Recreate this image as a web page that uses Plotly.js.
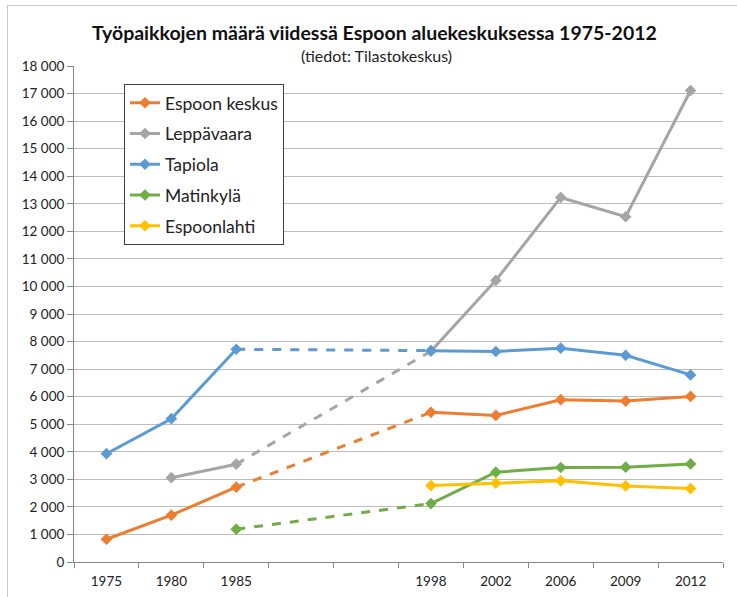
<!DOCTYPE html>
<html>
<head>
<meta charset="utf-8">
<script src="https://cdn.plot.ly/plotly-3.0.1.min.js"></script>
<style>
  html, body { margin: 0; padding: 0; background: #fff; }
  #wrap { position: relative; width: 737px; height: 597px; }
  #chart { width: 737px; height: 597px; }
  #frame { position: absolute; left: 7px; top: 5px; width: 740px; height: 600px;
           border-left: 1px solid #c8c8c8; border-top: 1px solid #c8c8c8;
           pointer-events: none; box-sizing: border-box; }
</style>
</head>
<body>
<div id="wrap"><div id="chart"></div><div id="frame"></div></div>
<script>
// Category order of the x axis (two empty slots between 1985 and 1998)
const categoryOrder = ['1975','1980','1985','gap1','gap2','1998','2002','2006','2009','2012'];
const years = ['1975','1980','1985','1998','2002','2006','2009','2012'];

// Series values (number of jobs); null = no data
const espoonKeskus = [825, 1700, 2715, 5430, 5320, 5890, 5840, 6010];
const leppavaara   = [null, 3060, 3550, 7650, 10220, 13230, 12530, 17110];
const tapiola      = [3930, 5200, 7720, 7670, 7640, 7760, 7500, 6790];
const matinkyla    = [null, null, 1190, 2120, 3260, 3430, 3440, 3560];
const espoonlahti  = [null, null, null, 2775, 2860, 2945, 2760, 2665];

const seriesNames  = ['Espoon keskus', 'Leppävaara', 'Tapiola', 'Matinkylä', 'Espoonlahti'];
const seriesValues = [espoonKeskus, leppavaara, tapiola, matinkyla, espoonlahti];
const seriesColors = ['#ED7D31', '#A5A5A5', '#5B9BD5', '#70AD47', '#FFC000'];

const gapStart = '1985', gapEnd = '1998';

const traces = [];
seriesNames.forEach((name, i) => {
  const vals = seriesValues[i];
  const lookup = {};
  years.forEach((y, k) => { lookup[y] = vals[k]; });
  const color = seriesColors[i];
  // dashed connection across the gap
  const a = lookup[gapStart], b = lookup[gapEnd];
  if (a != null && b != null) {
    traces.push({
      x: [gapStart, gapEnd], y: [a, b], type: 'scatter', mode: 'lines',
      line: { color: color, width: 3, dash: 'dash' },
      showlegend: false, legendgroup: name, hoverinfo: 'skip'
    });
  }
  // solid segments with markers
  traces.push({
    x: categoryOrder,
    y: categoryOrder.map(c => (c in lookup ? lookup[c] : null)),
    type: 'scatter', mode: 'lines+markers', name: name,
    connectgaps: false, legendgroup: name,
    line: { color: color, width: 3 },
    marker: { symbol: 'diamond', size: 9, color: color }
  });
});

// order: dashed lines first, then solid series in order
traces.sort((p, q) => (p.mode === 'lines' ? 0 : 1) - (q.mode === 'lines' ? 0 : 1));

const font = "Lato, 'Liberation Sans', sans-serif";

const layout = {
  width: 737, height: 597,
  margin: { l: 74, r: 14, t: 66, b: 35 },
  paper_bgcolor: '#fff', plot_bgcolor: '#fff',
  separators: ', ',
  font: { family: font, size: 13, color: '#222' },
  title: {
    text: '<b>Työpaikkojen määrä viidessä Espoon aluekeskuksessa 1975-2012</b>',
    font: { family: font, size: 19.5, color: '#111' },
    x: 0.508, xref: 'container', xanchor: 'center',
    y: 0.945, yref: 'container', yanchor: 'middle'
  },
  annotations: [{
    text: '(tiedot: Tilastokeskus)', xref: 'paper', yref: 'paper',
    x: 0.466, y: 1.022, xanchor: 'center', yanchor: 'middle', showarrow: false,
    font: { family: font, size: 16, color: '#222' }
  }],
  xaxis: {
    type: 'category', categoryorder: 'array', categoryarray: categoryOrder,
    range: [-0.5, categoryOrder.length - 0.5],
    tickmode: 'array', tickvals: categoryOrder,
    ticktext: categoryOrder.map(c => (c.startsWith('gap') ? '' : c)),
    tickson: 'boundaries', ticks: 'outside', ticklen: 5, tickcolor: '#868686',
    ticklabelstandoff: 7,
    showline: true, linecolor: '#868686', linewidth: 1,
    showgrid: false, zeroline: false, fixedrange: true,
    tickfont: { family: font, size: 13.5, color: '#222' }
  },
  yaxis: {
    range: [0, 18000], dtick: 1000, tick0: 0, tickformat: ',d',
    ticks: 'outside', ticklen: 6, tickcolor: '#868686',
    showline: true, linecolor: '#868686', linewidth: 1,
    showgrid: true, gridcolor: '#bdbdbd', gridwidth: 1, zeroline: false,
    fixedrange: true,
    tickfont: { family: font, size: 13.5, color: '#222' }
  },
  legend: {
    x: 0.077, y: 0.964, xanchor: 'left', yanchor: 'top',
    bgcolor: '#fff', bordercolor: '#404040', borderwidth: 1,
    font: { family: font, size: 17.5, color: '#222' },
    traceorder: 'grouped', tracegroupgap: 5
  },
  showlegend: true
};

Plotly.newPlot('chart', traces, layout, { displayModeBar: false, staticPlot: true });
</script>
</body>
</html>
